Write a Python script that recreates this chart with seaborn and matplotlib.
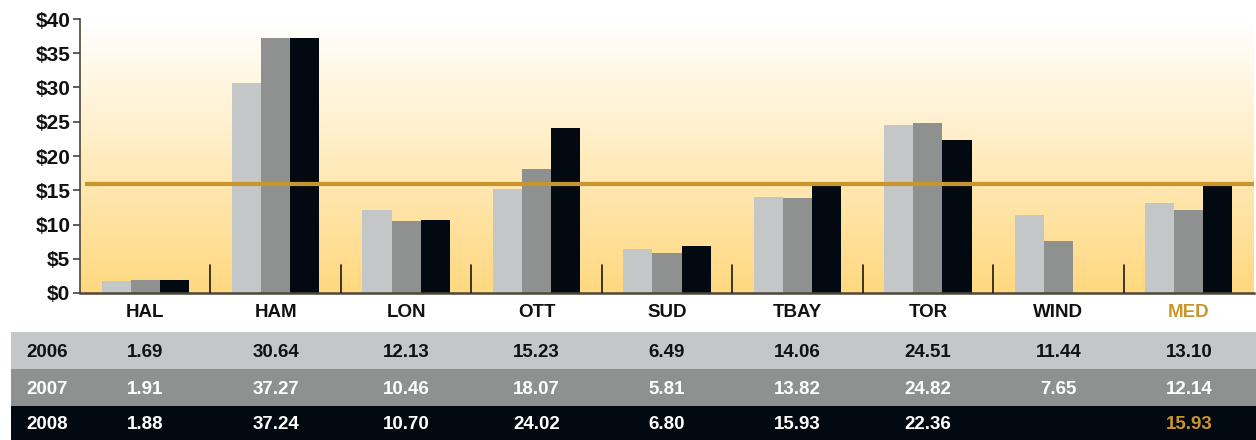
import numpy as np
import pandas as pd
import matplotlib
matplotlib.use("Agg")
import matplotlib.pyplot as plt
import seaborn as sns
from matplotlib.colors import LinearSegmentedColormap
from matplotlib.patches import Rectangle

categories = ["HAL", "HAM", "LON", "OTT", "SUD", "TBAY", "TOR", "WIND", "MED"]
years = ["2006", "2007", "2008"]
v2006 = [1.69, 30.64, 12.13, 15.23, 6.49, 14.06, 24.51, 11.44, 13.10]
v2007 = [1.91, 37.27, 10.46, 18.07, 5.81, 13.82, 24.82, 7.65, 12.14]
v2008 = [1.88, 37.24, 10.70, 24.02, 6.80, 15.93, 22.36, np.nan, 15.93]
median_value = 15.93
ytick_values = [0, 5, 10, 15, 20, 25, 30, 35, 40]

bar_colors = ["#C3C7C7", "#8E9190", "#020911"]
text_colors = ["#111111", "#FFFFFF", "#FFFFFF"]
gold = "#C9952F"

series = [v2006, v2007, v2008]
df = pd.DataFrame({
    "cat": categories * 3,
    "year": sum([[y] * len(categories) for y in years], []),
    "val": v2006 + v2007 + v2008,
})

sns.set_theme(style="white")
plt.rcParams["font.family"] = ["Liberation Sans", "DejaVu Sans"]

W, H = 1256, 440
fig = plt.figure(figsize=(W / 100, H / 100), dpi=100)
ax = fig.add_axes([80 / W, 1 - 293 / H, (1254 - 80) / W, (293 - 19) / H])

# gradient background
cmap = LinearSegmentedColormap.from_list("bg", [(0, "#FFFFFF"), (0.12, "#FFFBF0"),
                                                (1, "#FFD87F")])
grad = np.linspace(0, 1, 256).reshape(-1, 1)
ax.imshow(grad, cmap=cmap, aspect="auto", extent=[0, 1, 0, 1],
          transform=ax.transAxes, zorder=0)

sns.barplot(data=df, x="cat", y="val", hue="year", palette=bar_colors,
            order=categories, hue_order=years, width=0.67, gap=0,
            saturation=1, ax=ax, legend=False, zorder=2, linewidth=0)

ax.set_xlim(-0.5, len(categories) - 0.5)
ax.set_ylim(0, 40)
ax.set_yticks(ytick_values)
ax.set_yticklabels([f"${v}" for v in ytick_values], fontsize=15, fontweight="bold",
                   color="#111111")
ax.tick_params(axis="y", length=5, width=1.2, color="#444433", pad=2, left=True)
ax.tick_params(axis="x", length=0, pad=8)
ax.set_xticks(range(len(categories)))
ax.set_xticklabels(categories, fontsize=13.5, fontweight="bold")
for lbl in ax.get_xticklabels():
    lbl.set_color(gold if lbl.get_text() == "MED" else "#111111")
ax.set_xlabel("")
ax.set_ylabel("")

for s in ["top", "right"]:
    ax.spines[s].set_visible(False)
for s in ["left", "bottom"]:
    ax.spines[s].set_color("#4A4838")
ax.spines["bottom"].set_linewidth(1.8)
ax.spines["left"].set_linewidth(1.2)

# group separators
for i in range(len(categories) - 1):
    ax.plot([i + 0.5, i + 0.5], [0, 4.1], color="#1A1A1A", lw=1.2, zorder=3)

# median line
ax.plot([0.04 - 0.5, len(categories) - 0.5], [median_value, median_value],
        color=gold, lw=3, zorder=4, solid_capstyle="butt")

# table below
row_tops = [332, 369, 406]
row_bots = [369, 406, 440]
for r, year in enumerate(years):
    y0 = 1 - row_bots[r] / H
    hgt = (row_bots[r] - row_tops[r]) / H
    fig.patches.append(Rectangle((11 / W, y0), 1 - 11 / W, hgt, transform=fig.transFigure,
                                 facecolor=bar_colors[r], edgecolor="none", zorder=0))
    yc = 1 - (row_tops[r] + row_bots[r]) / 2 / H - 1.5 / H
    fig.text(47 / W, yc, year, ha="center", va="center", fontsize=13.5,
             fontweight="bold", color=text_colors[r])
    for i, cat in enumerate(categories):
        v = series[r][i]
        if np.isnan(v):
            continue
        xc = ax.transData.transform((i, 0))[0] / W
        col = text_colors[r]
        if cat == "MED" and r == 2:
            col = gold
        fig.text(xc, yc, f"{v:.2f}", ha="center", va="center", fontsize=13.5,
                 fontweight="bold", color=col)

fig.savefig("out.png", dpi=100)
